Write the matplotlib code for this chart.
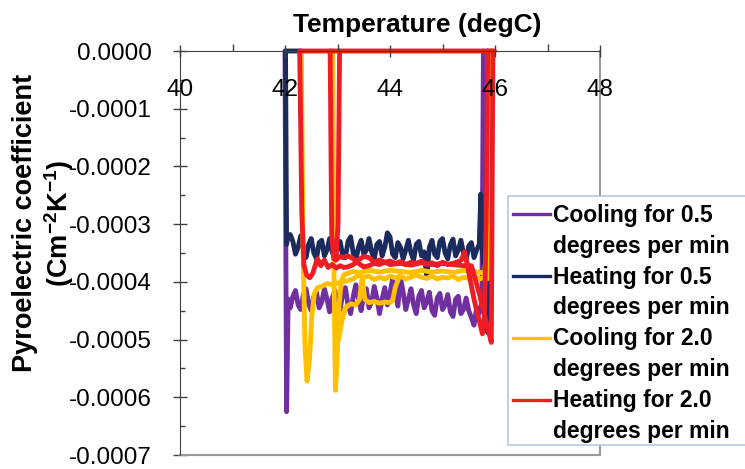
import numpy as np
import matplotlib.pyplot as plt
from matplotlib.lines import Line2D
from matplotlib.patches import Rectangle

plt.rcParams['font.family'] = ['Liberation Sans', 'DejaVu Sans']
plt.rcParams['axes.unicode_minus'] = False
plt.rcParams['mathtext.fontset'] = 'custom'
plt.rcParams['mathtext.rm'] = 'Liberation Sans'
plt.rcParams['mathtext.bf'] = 'Liberation Sans:bold'

# pyroelectric coefficient values below are in units of 1e-4 C m^-2 K^-1
SCALE = 1e-4

# common temperature grid of the 0.5 degC/min runs (degC)
t_slow = [42.10, 42.15, 42.20, 42.25, 42.30, 42.35, 42.40, 42.45, 42.50, 42.55,
          42.60, 42.65, 42.70, 42.75, 42.80, 42.85, 42.90, 42.95, 43.00, 43.05,
          43.10, 43.15, 43.20, 43.25, 43.30, 43.35, 43.40, 43.45, 43.50, 43.55,
          43.60, 43.65, 43.70, 43.75, 43.80, 43.85, 43.90, 43.95, 44.00, 44.05,
          44.10, 44.15, 44.20, 44.25, 44.30, 44.35, 44.40, 44.45, 44.50, 44.55,
          44.60, 44.65, 44.70, 44.75, 44.80, 44.85, 44.90, 44.95, 45.00, 45.05,
          45.10, 45.15, 45.20, 45.25, 45.30, 45.35, 45.40, 45.45, 45.50, 45.55,
          45.60, 45.65, 45.70]

# cooling, 0.5 degC/min
cool05_p = [-4.45, -4.25, -4.15, -4.40, -4.48, -4.22, -4.12, -4.38, -4.50, -4.25,
            -4.18, -4.45, -4.35, -4.12, -4.30, -4.52, -4.28, -4.15, -4.42, -4.48,
            -4.20, -4.10, -4.40, -4.55, -4.25, -4.05, -4.30, -4.50, -4.22, -4.12,
            -4.45, -4.35, -4.08, -4.28, -4.55, -4.30, -4.10, -4.40, -4.20, -3.95,
            -4.15, -4.42, -3.92, -4.18, -4.48, -4.30, -4.12, -4.40, -4.55, -4.25,
            -4.15, -4.45, -4.35, -4.18, -4.50, -4.58, -4.28, -4.20, -4.48, -4.40,
            -4.22, -4.52, -4.60, -4.30, -4.25, -4.55, -4.48, -4.28, -4.50, -4.62,
            -4.75, -4.45, -4.55]
cool05_head_t = [42.00, 42.03, 42.06]
cool05_head_p = [0.0, -6.25, -4.30]
cool05_tail_t = [45.75, 45.78]
cool05_tail_p = [-4.35, 0.0]

# heating, 0.5 degC/min
heat05_p = [-3.18, -3.30, -3.52, -3.40, -3.20, -3.42, -3.58, -3.35, -3.25, -3.50,
            -3.60, -3.32, -3.28, -3.55, -3.45, -3.25, -3.48, -3.60, -3.38, -3.30,
            -3.55, -3.58, -3.30, -3.22, -3.50, -3.62, -3.40, -3.28, -3.52, -3.45,
            -3.25, -3.48, -3.60, -3.35, -3.30, -3.55, -3.40, -3.15, -3.22, -3.52,
            -3.58, -3.32, -3.40, -3.60, -3.45, -3.28, -3.50, -3.62, -3.35, -3.30,
            -3.55, -3.48, -3.92, -3.40, -3.28, -3.52, -3.58, -3.30, -3.25, -3.50,
            -3.60, -3.36, -3.26, -3.55, -3.45, -3.28, -3.50, -3.62, -3.38, -3.32,
            -3.58, -3.45, -3.35]
heat05_head_t = [42.30, 42.01, 42.03, 42.06]
heat05_head_p = [0.0, 0.0, -3.35, -3.20]
heat05_tail_t = [45.73, 45.76, 45.80, 45.86, 45.90, 45.93]
heat05_tail_p = [-2.48, -3.50, -3.80, -4.88, -4.20, 0.0]

# cooling, 2.0 degC/min (three passes)
cool20_a_t = [45.93, 45.88, 45.85, 45.80, 45.70, 45.60, 45.50, 45.40, 45.30, 45.20,
              45.10, 45.00, 44.90, 44.80, 44.70, 44.60, 44.50, 44.40, 44.30, 44.20,
              44.10, 44.00, 43.90, 43.80, 43.70, 43.60, 43.50, 43.40, 43.30, 43.20,
              43.10, 43.00, 42.90, 42.80, 42.70, 42.62, 42.56, 42.51, 42.47, 42.42,
              42.38, 42.34, 42.31]
cool20_a_p = [0.0, -3.30, -3.95, -3.92, -3.95, -3.90, -3.94, -3.92, -3.96, -3.90,
              -3.93, -3.92, -3.95, -3.90, -3.94, -3.92, -3.88, -3.92, -3.95, -3.90,
              -3.93, -3.90, -3.95, -3.92, -3.96, -3.90, -3.92, -3.88, -3.95, -3.98,
              -4.00, -4.02, -4.05, -4.03, -4.08, -4.10, -4.20, -4.60, -5.30, -5.72,
              -5.10, -3.20, 0.0]
cool20_b_t = [42.91, 42.93, 42.96, 42.99, 43.03, 43.07, 43.12, 43.20, 43.30, 43.40,
              43.60, 43.80, 44.00, 44.20, 44.40, 44.60, 44.80, 45.00, 45.20, 45.40,
              45.60, 45.80, 45.86, 45.90]
cool20_b_p = [0.0, -3.60, -5.88, -5.40, -4.40, -4.00, -3.88, -3.85, -3.82, -3.84,
              -3.80, -3.83, -3.80, -3.82, -3.84, -3.80, -3.83, -3.81, -3.84, -3.80,
              -3.82, -3.85, -3.30, 0.0]
cool20_c_t = [43.02, 43.08, 43.15, 43.25, 43.35, 43.42, 43.47, 43.52, 43.60, 43.70,
              43.80, 43.90, 44.00, 44.05, 44.10, 44.18]
cool20_c_p = [-5.00, -4.70, -4.45, -4.38, -4.40, -4.30, -3.92, -4.30, -4.36, -4.34,
              -4.37, -4.35, -4.36, -4.32, -4.10, -3.90]

# heating, 2.0 degC/min (three passes)
heat20_a_t = [45.99, 42.28, 42.32, 42.36, 42.41, 42.47, 42.53, 42.58, 42.62, 42.68,
              42.75, 42.82, 42.90, 42.98, 43.05, 43.12, 43.20, 43.30, 43.40, 43.50,
              43.60, 43.70, 43.80, 43.90, 44.00, 44.10, 44.20, 44.30, 44.40, 44.50,
              44.60, 44.70, 44.80, 44.90, 45.00, 45.10, 45.20, 45.30, 45.36, 45.42,
              45.46, 45.60, 45.76, 45.80, 45.84, 45.86]
heat20_a_p = [0.0, 0.0, -2.80, -3.70, -3.88, -3.93, -3.85, -3.70, -3.60, -3.72,
              -3.62, -3.75, -3.70, -3.76, -3.72, -3.75, -3.74, -3.70, -3.62, -3.56,
              -3.58, -3.66, -3.62, -3.66, -3.64, -3.68, -3.65, -3.70, -3.66, -3.68,
              -3.64, -3.70, -3.67, -3.72, -3.66, -3.70, -3.68, -3.65, -3.62, -3.48,
              -3.65, -4.30, -4.90, -4.60, -2.50, 0.0]
heat20_b_t = [42.86, 42.89, 42.93, 42.97, 43.01, 43.04]
heat20_b_p = [0.0, -3.20, -3.60, -3.62, -3.00, 0.0]
heat20_c_t = [42.97, 43.05, 43.10, 43.20, 43.30, 43.40, 43.50, 43.60, 43.70, 43.80,
              43.90, 44.00, 44.20, 44.40, 44.60, 44.80, 45.00, 45.20, 45.40, 45.55,
              45.70, 45.85, 45.93, 45.96]
heat20_c_p = [-3.62, -3.56, -3.58, -3.55, -3.60, -3.68, -3.74, -3.72, -3.68, -3.70,
              -3.66, -3.70, -3.68, -3.71, -3.67, -3.70, -3.68, -3.70, -3.72, -3.72,
              -4.20, -4.75, -5.05, 0.0]

labels = ['Cooling for 0.5\ndegrees per min', 'Heating for 0.5\ndegrees per min',
          'Cooling for 2.0\ndegrees per min', 'Heating for 2.0\ndegrees per min']
colors = ['#7030A0', '#1C2B5E', '#FFC000', '#EE1D23']

x_major = [40, 42, 44, 46, 48]
x_minor = [41, 43, 45, 47]
y_major = [0.0, -0.0001, -0.0002, -0.0003, -0.0004, -0.0005, -0.0006, -0.0007]
y_minor = [-0.00005, -0.00015, -0.00025, -0.00035, -0.00045, -0.00055, -0.00065]

runs = [
    [(cool05_head_t + t_slow + cool05_tail_t, cool05_head_p + cool05_p + cool05_tail_p)],
    [(heat05_head_t + t_slow + heat05_tail_t, heat05_head_p + heat05_p + heat05_tail_p)],
    [(cool20_a_t, cool20_a_p), (cool20_b_t, cool20_b_p), (cool20_c_t, cool20_c_p)],
    [(heat20_a_t, heat20_a_p), (heat20_b_t, heat20_b_p), (heat20_c_t, heat20_c_p)],
]

W, H = 745, 469
fig = plt.figure(figsize=(W / 100, H / 100), dpi=100)
ax = fig.add_axes([180 / W, 1 - 455 / H, 420 / W, 404 / H])

for series, color in zip(runs, colors):
    for t, p in series:
        ax.plot(t, np.array(p) * SCALE, color=color, lw=3.5,
                solid_joinstyle='round', solid_capstyle='round', clip_on=False)

ax.set_xlim(40, 48)
ax.set_ylim(-0.0007, 0)

# x axis crosses at zero, which is the top of the plot
ax.spines['bottom'].set_position(('data', 0))
ax.spines['top'].set_visible(False)
ax.spines['left'].set_color('#404040')
ax.spines['bottom'].set_color('#404040')
ax.spines['right'].set_color('#9a9a9a')
ax.spines['right'].set_linewidth(1.5)
ax.plot([0, 1], [0, 0], transform=ax.transAxes, color='#9a9a9a', lw=1.5, clip_on=False)
# temperature labels sit on top of the curves
ax.xaxis.set_zorder(3)

ax.set_xticks(x_major)
ax.set_xticklabels([str(v) for v in x_major])
ax.set_xticks(x_minor, minor=True)
ax.set_yticks(y_major)
ax.set_yticklabels([f"{round(v, 4) + 0:.4f}" for v in y_major])
ax.set_yticks(y_minor, minor=True)

ax.tick_params(axis='x', which='major', direction='inout', length=9, width=1,
               color='#404040', pad=16, labelsize=17.5)
ax.tick_params(axis='x', which='minor', direction='in', length=5, width=1, color='#404040')
ax.tick_params(axis='y', which='major', direction='inout', length=10, width=1,
               color='#404040', pad=15, labelsize=17.5)
ax.tick_params(axis='y', which='minor', direction='in', length=3.3, width=1, color='#404040')

fig.text(417 / W, 1 - 32 / H, 'Temperature (degC)', ha='center', va='baseline',
         fontsize=19, fontweight='bold')
fig.text(44 / W, 1 - 223 / H,
         'Pyroelectric coefficient\n(Cm$^{\\mathbf{-2}}$K$^{\\mathbf{-1}}$)',
         rotation=90, ha='center', va='center', multialignment='center',
         fontsize=19.5, fontweight='bold', linespacing=1.2)

# legend box drawn by hand so each key sits on the first line of its label
fig.add_artist(Rectangle((508 / W, 1 - 445 / H), 260 / W, 249 / H,
                         transform=fig.transFigure, facecolor='white',
                         edgecolor='#B7C6DD', lw=1.2, zorder=5))
for k, (lab, color) in enumerate(zip(labels, colors)):
    yk = 214 + 62 * k
    fig.add_artist(Line2D([513 / W, 550 / W], [1 - yk / H, 1 - yk / H],
                          transform=fig.transFigure, color=color, lw=2.4, zorder=6))
    for j, line in enumerate(lab.split('\n')):
        yb = 222 + 30.8 * (2 * k + j)
        fig.text(553 / W, 1 - yb / H, line, ha='left', va='baseline',
                 fontsize=16.5, fontweight='bold', zorder=7)

fig.savefig('out.png', dpi=100)
